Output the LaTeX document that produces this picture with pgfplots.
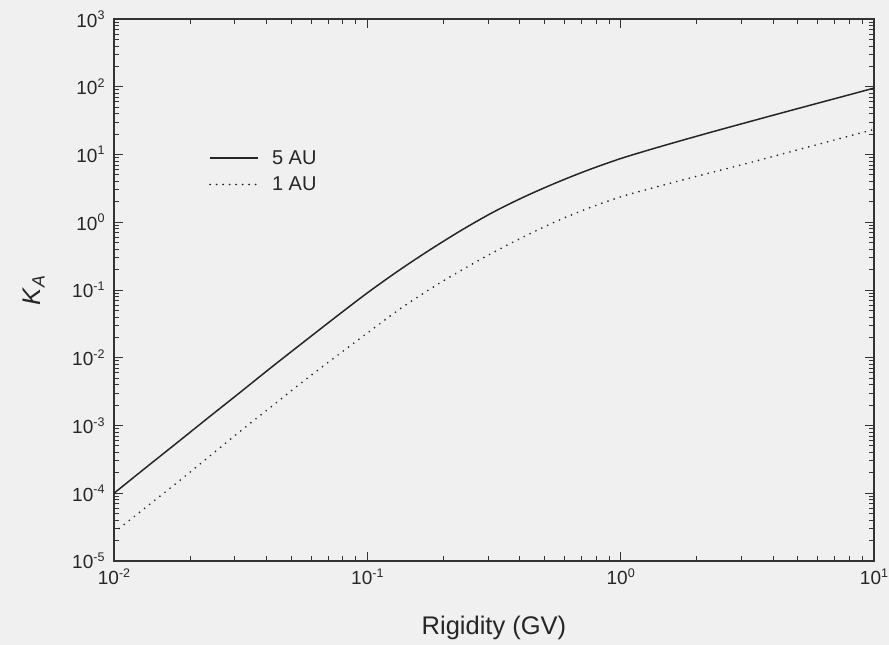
\documentclass[border=0pt]{standalone}
\usepackage{fontspec}
\setmainfont{Liberation Sans}
\usepackage{pgfplots}
\pgfplotsset{compat=1.18}
\newcommand{\tl}[1]{10\raisebox{7.5pt}{\fontsize{12.5}{12.5}\selectfont #1}}
\begin{document}
\begin{tikzpicture}
\useasboundingbox (-114pt,-84pt) rectangle (775pt,561pt);
\fill[black!6] (-114pt,-84pt) rectangle (775pt,561pt);
\begin{axis}[
 at={(0,0)}, anchor=south west,
 scale only axis, width=760pt, height=542pt,
 xmode=log, ymode=log,
 xmin=0.01, xmax=10, ymin=1e-5, ymax=1e3,
 xtick={0.01,0.1,1,10}, xticklabels={\tl{-2},\tl{-1},\tl{0},\tl{1}},
 ytick={1e-5,1e-4,1e-3,1e-2,1e-1,1,10,100,1000},
 yticklabels={\tl{-5},\tl{-4},\tl{-3},\tl{-2},\tl{-1},\tl{0},\tl{1},\tl{2},\tl{3}},
 tick align=inside,
 major tick length=9pt, minor tick length=5pt,
 axis line style={black!80, line width=1.3pt},
 every tick/.style={black!80, line width=0.9pt},
 tick label style={font=\fontsize{19}{22}\selectfont, text=black!85},
 xticklabel style={yshift=-4pt},
 yticklabel style={xshift=-6pt},
 xlabel={Rigidity (GV)},
 ylabel={\textit{K}\textsubscript{\textit{A}}},
 label style={font=\fontsize{25.5}{29}\selectfont, text=black!85},
 xlabel style={at={(rel axis cs:0.5,0)}, anchor=center, yshift=-67pt},
 ylabel style={at={(rel axis cs:0,0.5)}, anchor=center, yshift=80pt},
 legend style={draw=none, fill=none, at={(0.121,0.765)}, anchor=north west,
   font=\fontsize{20}{23}\selectfont, text=black!85, row sep=7pt,
   /tikz/every odd column/.append style={column sep=11pt}},
 legend cell align=left,
 legend image code/.code={\draw[#1] (0pt,0pt) -- (48pt,0pt);},
]
\addplot[smooth, black!85, line width=1.5pt] coordinates {
 (0.01,1.0e-4) (0.013335,2.377e-4) (0.017783,5.61e-4) (0.023714,1.330e-3)
 (0.031623,3.126e-3) (0.042170,7.413e-3) (0.056234,1.722e-2) (0.074989,3.981e-2)
 (0.1,9.057e-2) (0.13335,0.1950) (0.17783,0.3981) (0.23714,0.7762)
 (0.31623,1.429) (0.42170,2.427) (0.56234,3.890) (0.74989,5.957)
 (1,8.710) (1.3335,12.08) (1.7783,16.48) (2.3714,22.28) (3.1623,29.92)
 (4.2170,40.09) (5.6234,53.58) (7.4989,71.45) (10,95.50)
};
\addlegendentry{5 AU}
\addplot[smooth, black!85, line width=1.9pt, dash pattern=on 0pt off 6.5pt, line cap=round] coordinates {
 (0.01,2.63e-5) (0.013335,6.166e-5) (0.017783,1.445e-4) (0.023714,3.467e-4)
 (0.031623,8.318e-4) (0.042170,1.950e-3) (0.056234,4.571e-3) (0.074989,1.035e-2)
 (0.1,2.317e-2) (0.13335,5.129e-2) (0.17783,0.1047) (0.23714,0.1995)
 (0.31623,0.3631) (0.42170,0.6310) (0.56234,1.047) (0.74989,1.622)
 (1,2.371) (1.3335,3.199) (1.7783,4.266) (2.3714,5.623) (3.1623,7.413)
 (4.2170,9.886) (5.6234,13.18) (7.4989,17.58) (10,23.44)
};
\addlegendentry{1 AU}
\end{axis}
\end{tikzpicture}
\end{document}
